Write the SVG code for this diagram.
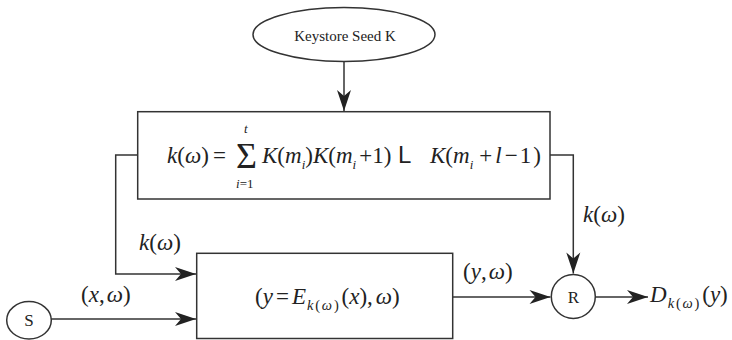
<svg xmlns="http://www.w3.org/2000/svg" width="732" height="340" viewBox="0 0 732 340">
<style>
.ln{fill:none;stroke:#333;stroke-width:1.5}
.sh{fill:#fff;stroke:#333;stroke-width:1.5}
.t{font-family:"Liberation Serif","Times New Roman",serif;fill:#222}
.m{font-family:"Liberation Serif","Times New Roman",serif;font-size:23px;fill:#222}
.i{font-style:italic}
.s{font-size:13px}
.sb{font-size:14.5px;letter-spacing:1.8px}
</style>
<defs>
<marker id="ah" markerUnits="userSpaceOnUse" markerWidth="24" markerHeight="16" viewBox="-22 -8 24 16" refX="0" refY="0" orient="auto">
<path d="M-21,-7 L0,0 L-21,7 L-15,0 z" fill="#222"/>
</marker>
</defs>
<g id="connectors">
<line class="ln" x1="344" y1="62" x2="344" y2="111" marker-end="url(#ah)"/>
<polyline class="ln" points="141,155 115.7,155 115.7,274 196,274" marker-end="url(#ah)"/>
<line class="ln" x1="51" y1="319" x2="196" y2="319" marker-end="url(#ah)"/>
<polyline class="ln" points="546,155 573.3,155 573.3,273.5" marker-end="url(#ah)"/>
<line class="ln" x1="453" y1="297" x2="550.5" y2="297" marker-end="url(#ah)"/>
<line class="ln" x1="595.5" y1="297" x2="648" y2="297" marker-end="url(#ah)"/>
</g>
<g id="keystore">
<ellipse class="sh" cx="344" cy="34.5" rx="91" ry="27"/>
<text class="t" x="345" y="41" font-size="15" text-anchor="middle">Keystore Seed K</text>
</g>
<g id="kbox">
<rect class="sh" x="137.7" y="111.7" width="412.3" height="87.3"/>
<text class="m" y="163"><tspan x="167" class="i">k</tspan><tspan>(</tspan><tspan class="i">ω</tspan><tspan>)</tspan><tspan x="213">=</tspan></text>
<text class="t" x="236" y="168" font-size="36">Σ</text>
<text class="t i" x="244" y="133" font-size="13">t</text>
<text class="t" x="236" y="188" font-size="13"><tspan class="i">i</tspan>=1</text>
<text class="m" y="163"><tspan x="262" class="i">K</tspan>(<tspan class="i">m</tspan><tspan class="i s" dy="6">i</tspan><tspan dy="-6">)</tspan><tspan class="i">K</tspan>(<tspan class="i">m</tspan><tspan class="i s" dy="6">i</tspan><tspan dy="-6" dx="3">+</tspan>1)</text>
<text x="398" y="163" font-family="Liberation Sans,Arial,sans-serif" font-size="24" fill="#222">L</text>
<text class="m" y="163"><tspan x="430" class="i">K</tspan>(<tspan class="i">m</tspan><tspan class="i s" dy="6">i</tspan><tspan dy="-6" dx="6">+</tspan><tspan class="i" dx="3">l</tspan><tspan dx="3">−</tspan><tspan dx="2">1</tspan><tspan dx="2">)</tspan></text>
</g>
<g id="ebox">
<rect class="sh" x="196.7" y="253.3" width="256" height="85.2"/>
<text class="m" y="304"><tspan x="255">(</tspan><tspan class="i">y</tspan><tspan dx="3">=</tspan><tspan dx="3" class="i">E</tspan><tspan class="sb" dy="6" dx="1"><tspan class="i">k</tspan>(<tspan class="i">ω</tspan>)</tspan><tspan dy="-6" dx="1">(</tspan><tspan class="i">x</tspan><tspan>),</tspan><tspan dx="3" class="i">ω</tspan><tspan>)</tspan></text>
</g>
<g id="S">
<ellipse class="sh" cx="29" cy="320.3" rx="22.3" ry="18.7"/>
<text class="t" x="29" y="326" font-size="17" text-anchor="middle">S</text>
</g>
<g id="R">
<circle class="sh" cx="573.3" cy="296.5" r="22"/>
<text class="t" x="573.3" y="302.5" font-size="17" text-anchor="middle">R</text>
</g>
<g id="labels">
<text class="m" x="139" y="250"><tspan class="i">k</tspan>(<tspan class="i">ω</tspan>)</text>
<text class="m" x="81" y="302">(<tspan class="i">x</tspan>,<tspan class="i" dx="2">ω</tspan>)</text>
<text class="m" x="463" y="279">(<tspan class="i">y</tspan>,<tspan class="i" dx="2">ω</tspan>)</text>
<text class="m" x="583" y="222"><tspan class="i">k</tspan>(<tspan class="i">ω</tspan>)</text>
<text class="m" y="302"><tspan x="650" class="i">D</tspan><tspan class="sb" dy="6" dx="1"><tspan class="i">k</tspan>(<tspan class="i">ω</tspan>)</tspan><tspan dy="-6" dx="1">(</tspan><tspan class="i">y</tspan><tspan>)</tspan></text>
</g>
</svg>
